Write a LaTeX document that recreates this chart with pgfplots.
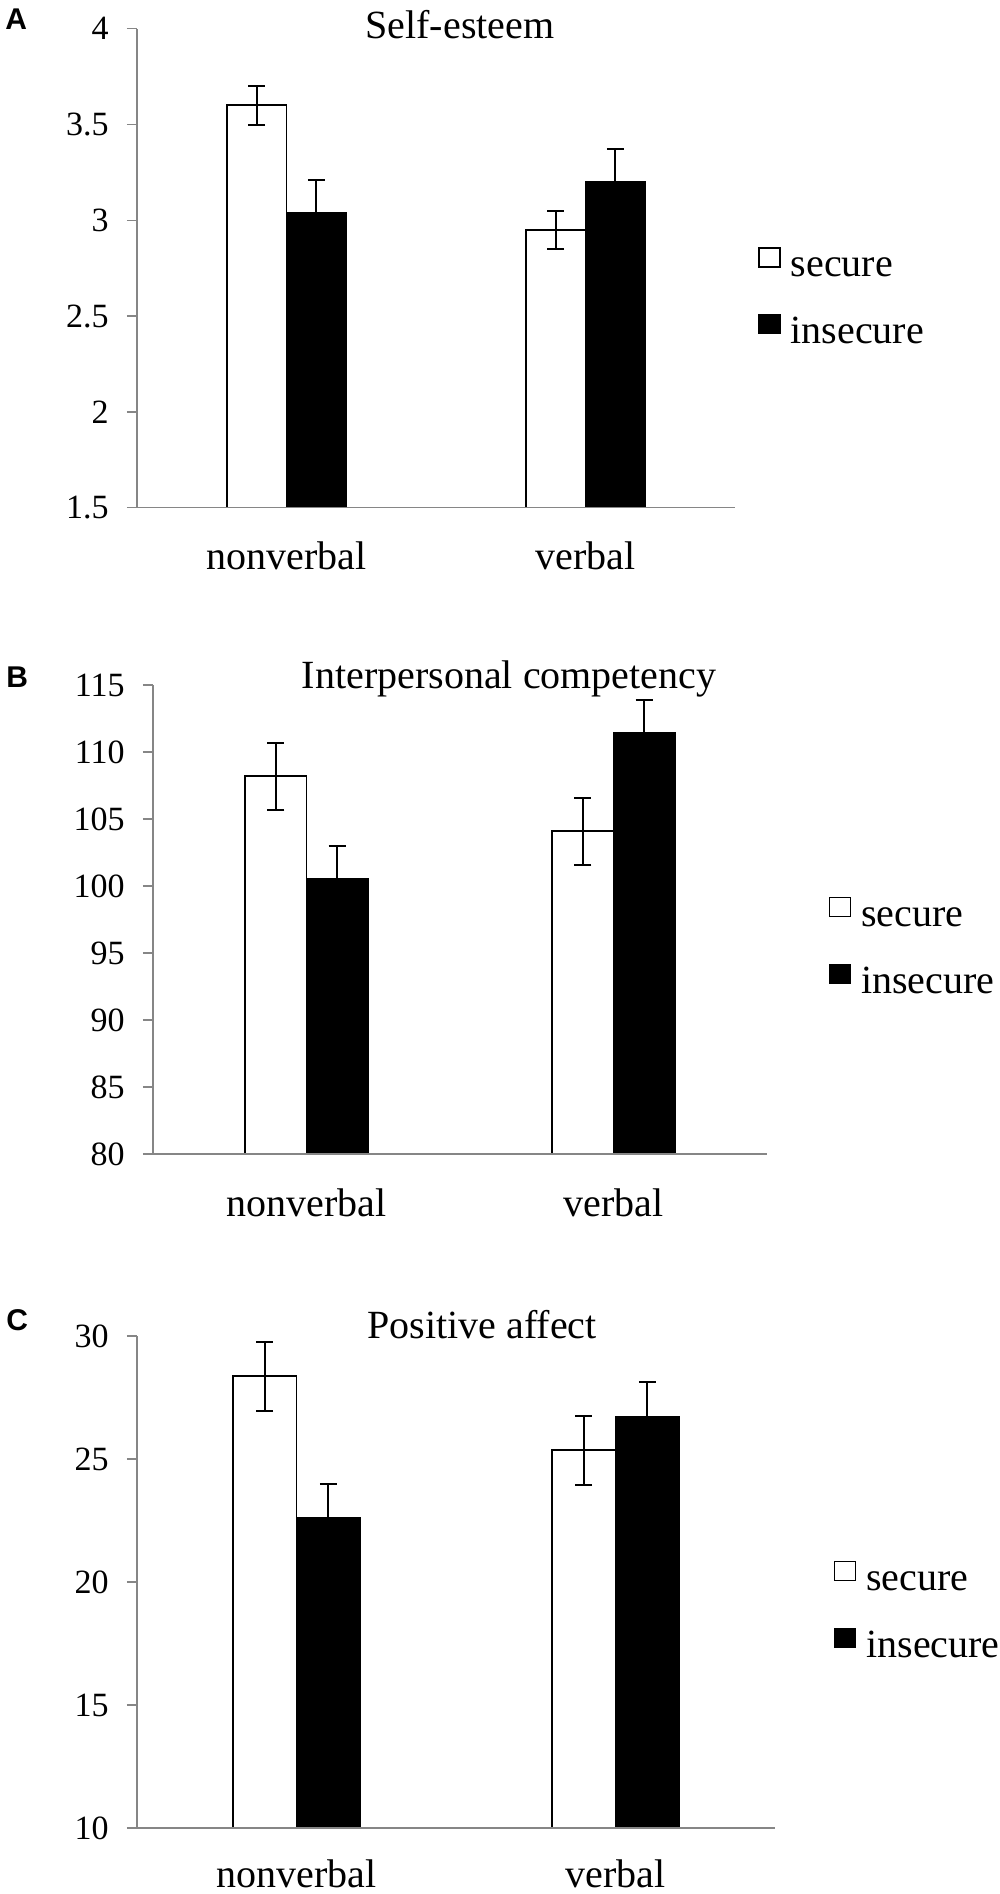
\documentclass[border=0pt]{standalone}
\usepackage{fontspec}
\setmainfont{Liberation Serif}
\newfontfamily\arialbf[BoldFont={Liberation Sans Bold}]{Liberation Sans}
\usepackage{pgfplots}
\pgfplotsset{compat=1.18}
\definecolor{axgray}{RGB}{134,134,134}

\pgfplotsset{
  panel/.style={
    scale only axis,
    anchor=south west,
    axis on top,
    axis lines*=left,
    axis line style={axgray, line width=0.75pt},
    xmin=-0.5, xmax=1.5,
    xtick={0,1}, xticklabels={nonverbal,verbal},
    x tick style={draw=none},
    y tick style={axgray, line width=0.75pt},
    tick align=outside, major tick length=5pt,
    ytick pos=left,
    /pgf/number format/assume math mode=true,
    yticklabel style={font=\fontsize{17}{17}\selectfont, inner sep=0pt, xshift=-9pt},
    xticklabel style={font=\fontsize{20}{20}\selectfont, anchor=base, inner sep=0pt, yshift=-26pt},
    every axis title shift=0pt,
    title style={font=\fontsize{20}{20}\selectfont, anchor=base, inner sep=0pt},
    ybar, bar width=0.2,
    error bars/error mark=|,
    error bars/error bar style={line width=1pt, black},
    error bars/error mark options={black, line width=1pt, mark size=4.25pt},
    legend style={draw=none, fill=none, font=\fontsize{20}{20}\selectfont,
      nodes={inner sep=0pt, text height=14pt, text depth=4pt},
      row sep=14.5pt, column sep=5pt, anchor=west},
    legend cell align=left,
    legend image code/.code={\draw[#1, line width=0.8pt] (0pt,0pt) rectangle (10.5pt,9.5pt);},
  },
  secure/.style={fill=white, draw=black, line width=0.9pt, bar shift=-0.1,
    error bars/.cd, y dir=both, y explicit},
  insecure/.style={fill=black, draw=black, line width=0.9pt, bar shift=0.1,
    error bars/.cd, y dir=both, y explicit},
}

\begin{document}
\begin{tikzpicture}
\useasboundingbox (0pt,0pt) rectangle (500pt,-947pt);

% Panel A
\node[anchor=base west, inner sep=0pt, font=\arialbf\bfseries\fontsize{15}{15}\selectfont] at (2.5pt,-15pt) {A};
\begin{axis}[panel,
  at={(68.5pt,-253.85pt)}, width=299pt, height=239.5pt,
  ymin=1.5, ymax=4, ytick={1.5,2,2.5,3,3.5,4},
  title={Self-esteem}, title style={at={(0.540,1)}, yshift=-4.65pt},
  legend style={at={(1.028,0.435)}},
]
\addplot[secure] table[x=x, y=y, y error=e] {
x y e
0 3.60 0.10
1 2.95 0.10
};
\addplot[insecure] table[x=x, y=y, y error=e] {
x y e
0 3.04 0.17
1 3.20 0.17
};
\legend{secure, insecure}
\end{axis}

% Panel B
\node[anchor=base west, inner sep=0pt, font=\arialbf\bfseries\fontsize{15}{15}\selectfont] at (3pt,-343.5pt) {B};
\begin{axis}[panel,
  at={(76.5pt,-577pt)}, width=307pt, height=234.5pt,
  ymin=80, ymax=115, ytick={80,85,...,115},
  title={Interpersonal competency}, title style={at={(0.580,1)}, yshift=-1.5pt},
  legend style={at={(1.090,0.437)}},
]
\addplot[secure] table[x=x, y=y, y error=e] {
x y e
0 108.2 2.5
1 104.1 2.5
};
\addplot[insecure] table[x=x, y=y, y error=e] {
x y e
0 100.5 2.5
1 111.4 2.45
};
\legend{secure, insecure}
\end{axis}

% Panel C
\node[anchor=base west, inner sep=0pt, font=\arialbf\bfseries\fontsize{15}{15}\selectfont] at (3pt,-665pt) {C};
\begin{axis}[panel,
  at={(68.5pt,-914pt)}, width=319pt, height=246pt,
  ymin=10, ymax=30, ytick={10,15,...,30},
  xticklabel style={yshift=1.5pt},
  title={Positive affect}, title style={at={(0.541,1)}, yshift=-1pt},
  legend style={at={(1.082,0.437)}},
]
\addplot[secure] table[x=x, y=y, y error=e] {
x y e
0 28.36 1.40
1 25.36 1.40
};
\addplot[insecure] table[x=x, y=y, y error=e] {
x y e
0 22.60 1.40
1 26.72 1.42
};
\legend{secure, insecure}
\end{axis}
\end{tikzpicture}
\end{document}
